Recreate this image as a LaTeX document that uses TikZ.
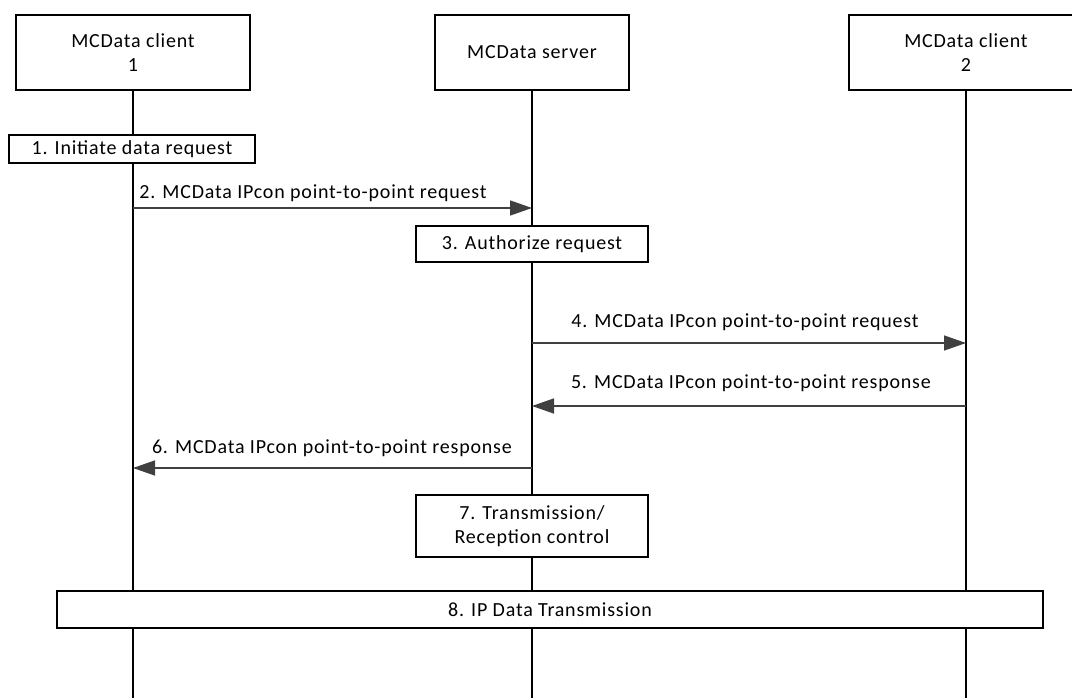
\documentclass[tikz,border=0pt]{standalone}
\usepackage{fontspec}
\setmainfont{Carlito}[LetterSpace=4]
\usetikzlibrary{arrows.meta}
\definecolor{arrowgray}{HTML}{404040}
\tikzset{
  actorbox/.style={draw=black, line width=1.5pt, fill=white, align=center, inner sep=0pt, font=\fontsize{20}{24}\selectfont},
  stepbox/.style={draw=black, line width=1.5pt, fill=white, align=center, inner sep=0pt, font=\fontsize{20}{24}\selectfont},
  lifeline/.style={draw=black, line width=1.5pt},
  msg/.style={draw=arrowgray, line width=1.5pt, -{Triangle[length=22pt,width=15pt]}},
  msglabel/.style={font=\fontsize{20}{24}\selectfont, inner sep=0pt}
}
\begin{document}
\begin{tikzpicture}[x=1pt,y=-1pt]
\useasboundingbox (0,0) rectangle (1072,698);
% lifelines
\coordinate (l1top) at (133,90);
\coordinate (l1bot) at (133,698);
\coordinate (l2top) at (532,90);
\coordinate (l2bot) at (532,698);
\coordinate (l3top) at (966,90);
\coordinate (l3bot) at (966,698);
\draw[lifeline] (l1top) -- (l1bot);
\draw[lifeline] (l2top) -- (l2bot);
\draw[lifeline] (l3top) -- (l3bot);
% actor boxes
\node[actorbox, minimum width=234pt, minimum height=75pt] (c1) at (133,52.5) {MCData client\\1};
\node[actorbox, minimum width=194pt, minimum height=75pt] (srv) at (532,52.5) {MCData server};
\node[actorbox, minimum width=234pt, minimum height=75pt] (c2) at (966,52.5) {MCData client\\2};
% step boxes
\node[stepbox, minimum width=246pt, minimum height=28pt] (s1) at (132,149) {1. Initiate data request};
\node[stepbox, minimum width=232pt, minimum height=36pt] (s3) at (532,244) {3. Authorize request};
\node[stepbox, minimum width=232pt, minimum height=62pt] (s7) at (532,526) {7. Transmission/\\Reception control};
\node[stepbox, minimum width=986pt, minimum height=37pt] (s8) at (550,609.5) {8. IP Data Transmission};
% message anchors
\coordinate (m2a) at (133,208); \coordinate (m2b) at (532,208);
\coordinate (m4a) at (532,343); \coordinate (m4b) at (966,343);
\coordinate (m5a) at (966,406); \coordinate (m5b) at (532,406);
\coordinate (m6a) at (532,468); \coordinate (m6b) at (133,468);
\draw[msg] (m2a) -- (m2b);
\draw[msg] (m4a) -- (m4b);
\draw[msg] (m5a) -- (m5b);
\draw[msg] (m6a) -- (m6b);
\node[msglabel] (t2) at (313,193) {2. MCData IPcon point-to-point request};
\node[msglabel] (t4) at (745,322) {4. MCData IPcon point-to-point request};
\node[msglabel] (t5) at (751,383) {5. MCData IPcon point-to-point response};
\node[msglabel] (t6) at (332,448) {6. MCData IPcon point-to-point response};
\end{tikzpicture}
\end{document}
